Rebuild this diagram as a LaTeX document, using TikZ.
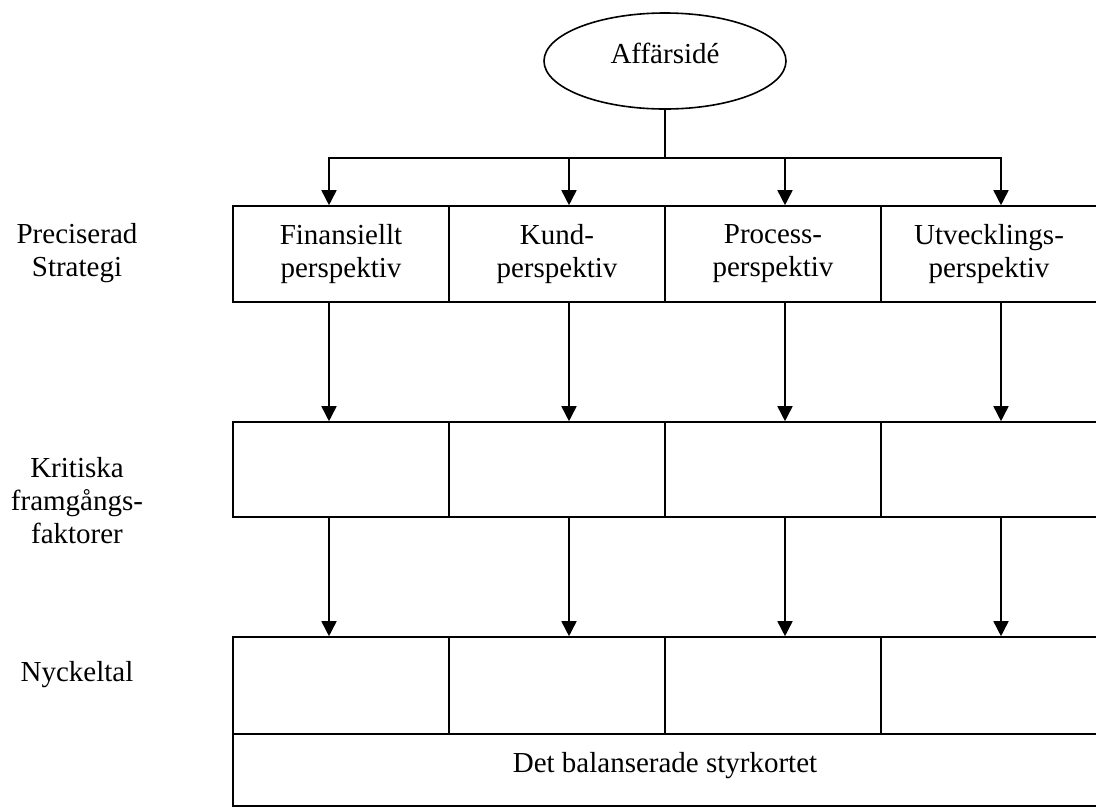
\documentclass[tikz,border=0pt]{standalone}
\usepackage{fontspec}
\setmainfont{Liberation Serif}
\usetikzlibrary{shapes.geometric,arrows.meta}
\begin{document}
\begin{tikzpicture}[x=1pt,y=-1pt,
  every node/.style={font=\fontsize{29pt}{33pt}\selectfont, inner sep=0pt},
  cell/.style={draw, line width=1.6pt, rectangle, minimum width=216pt, align=center},
  conn/.style={line width=1.6pt},
  arr/.style={conn, -{Triangle[width=15pt,length=15pt]}},
  side/.style={align=center}]
\useasboundingbox (0,0) rectangle (1096,807);

% top: business idea
\node[draw, ellipse, line width=1.6pt, minimum width=242pt, minimum height=96pt,
      text height=19.8pt, text depth=15.8pt] (idea) at (665,61) {Affärsidé};

% row 1: the four perspectives
\node[cell, minimum height=96pt] (f1) at (341,254) {Finansiellt\\perspektiv};
\node[cell, minimum height=96pt] (f2) at (557,254) {Kund-\\perspektiv};
\node[cell, minimum height=96pt] (f3) at (773,254) {Process-\\perspektiv};
\node[cell, minimum height=96pt] (f4) at (989,254) {Utvecklings-\\perspektiv};

% row 2: critical success factors
\node[cell, minimum height=95pt] (k1) at (341,469.5) {};
\node[cell, minimum height=95pt] (k2) at (557,469.5) {};
\node[cell, minimum height=95pt] (k3) at (773,469.5) {};
\node[cell, minimum height=95pt] (k4) at (989,469.5) {};

% row 3: key figures
\node[cell, minimum height=97pt] (n1) at (341,685.5) {};
\node[cell, minimum height=97pt] (n2) at (557,685.5) {};
\node[cell, minimum height=97pt] (n3) at (773,685.5) {};
\node[cell, minimum height=97pt] (n4) at (989,685.5) {};

% bottom bar
\node[cell, minimum width=864pt, minimum height=72pt,
      text height=19.8pt, text depth=15.8pt] (bsc) at (665,770) {Det balanserade styrkortet};

% row labels
\node[side] (ps) at (77,253) {Preciserad\\Strategi};
\node[side] (kf) at (77,501) {Kritiska\\framgångs-\\faktorer};
\node[anchor=base] (nt) at (77,681) {Nyckeltal};

% branching connectors
\coordinate (j) at (665,158);
\coordinate (t1) at (329,158);
\coordinate (t2) at (569,158);
\coordinate (t3) at (785,158);
\coordinate (t4) at (1001,158);
\draw[conn] (idea.south) -- (j);
\draw[conn, line cap=rect] (t1) -- (t4);
\foreach \i in {1,2,3,4}{
  \draw[arr] (t\i) -- (t\i |- f\i.north);
  \draw[arr] (t\i |- f\i.south) -- (t\i |- k\i.north);
  \draw[arr] (t\i |- k\i.south) -- (t\i |- n\i.north);
}
\end{tikzpicture}
\end{document}
